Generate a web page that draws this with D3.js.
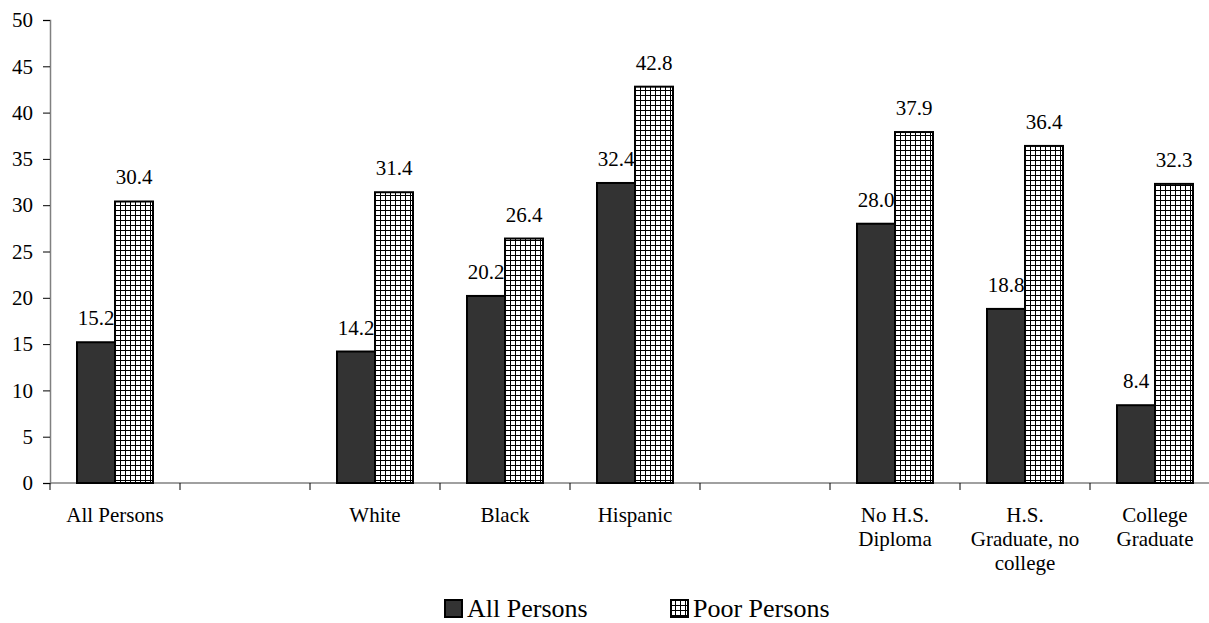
<!DOCTYPE html>
<html lang="en">
<head>
    <meta charset="UTF-8">
    <title>All Persons vs Poor Persons</title>
    <script src="https://d3js.org/d3.v7.min.js"></script>
    <style>
        body {
            margin: 0;
            background: white;
        }
        svg text {
            font-family: "Liberation Serif", "Times New Roman", serif !important;
            fill: black;
        }
    </style>
</head>
<body>
    <svg width="1209" height="623"></svg>
    <script>
        // categories (empty strings are the blank gaps between groups)
        var categories = ["All Persons", "", "White", "Black", "Hispanic", "", "No H.S.|Diploma", "H.S.|Graduate, no|college", "College|Graduate"];
        var allPersons = [15.2, null, 14.2, 20.2, 32.4, null, 28.0, 18.8, 8.4];
        var poorPersons = [30.4, null, 31.4, 26.4, 42.8, null, 37.9, 36.4, 32.3];
        var yTicks = [0, 5, 10, 15, 20, 25, 30, 35, 40, 45, 50];
        var seriesNames = ["All Persons", "Poor Persons"];

        var serif = "'Liberation Serif', 'Times New Roman', serif";
        var svg = d3.select("svg");
        var plotLeft = 50, plotRight = 1220, plotTop = 20, plotBottom = 483;

        var x = d3.scaleBand()
            .domain(d3.range(categories.length))
            .range([plotLeft, plotRight])
            .paddingInner(0)
            .paddingOuter(0);
        var barW = 38;

        var y = d3.scaleLinear().domain([0, 50]).range([plotBottom, plotTop]);

        // hatched grid pattern
        var defs = svg.append("defs");
        var pat = defs.append("pattern")
            .attr("id", "grid")
            .attr("patternUnits", "userSpaceOnUse")
            .attr("width", 5).attr("height", 5);
        pat.append("rect").attr("width", 5).attr("height", 5).attr("fill", "white");
        pat.append("path").attr("d", "M0,0.5H5M0.5,0V5")
            .attr("stroke", "black").attr("stroke-width", 1);

        // axes
        var yAxis = d3.axisLeft(y).tickValues(yTicks).tickSize(7).tickPadding(10);
        var gy = svg.append("g").attr("transform", "translate(" + plotLeft + ",0)").call(yAxis);
        gy.attr("font-family", serif).attr("font-size", 21);
        gy.select(".domain").attr("stroke", "#808080").attr("stroke-width", 1.5);
        gy.selectAll(".tick line").attr("stroke", "black");
        gy.selectAll(".tick text").style("font-family", serif).style("font-size", "21px");

        var xEdges = d3.range(categories.length).map(function(i) { return x(i); });
        var gx = svg.append("g");
        gx.append("line")
            .attr("x1", plotLeft).attr("x2", plotRight)
            .attr("y1", plotBottom).attr("y2", plotBottom)
            .attr("stroke", "#808080").attr("stroke-width", 1.5);
        gx.selectAll("line.tk").data(xEdges).enter().append("line")
            .attr("class", "tk")
            .attr("x1", function(d) { return d; }).attr("x2", function(d) { return d; })
            .attr("y1", plotBottom).attr("y2", plotBottom + 7)
            .attr("stroke", "black");

        function cx(i) { return x(i) + x.bandwidth() / 2; }

        // category labels
        categories.forEach(function(c, i) {
            if (!c) return;
            var t = svg.append("text")
                .attr("text-anchor", "middle")
                .style("font-family", serif)
                .style("font-size", "21px")
                .attr("x", cx(i))
                .attr("y", 522);
            c.split("|").forEach(function(line, j) {
                t.append("tspan")
                    .attr("x", cx(i))
                    .attr("dy", j === 0 ? 0 : 24)
                    .text(line);
            });
        });

        var idx = d3.range(categories.length).filter(function(i) { return allPersons[i] != null; });

        // dark bars
        svg.selectAll("rect.all").data(idx).enter().append("rect")
            .attr("class", "all")
            .attr("x", function(i) { return cx(i) - barW; })
            .attr("y", function(i) { return y(allPersons[i]); })
            .attr("width", barW)
            .attr("height", function(i) { return plotBottom - y(allPersons[i]); })
            .attr("fill", "#333333")
            .attr("stroke", "black").attr("stroke-width", 2);

        svg.selectAll("text.allv").data(idx).enter().append("text")
            .attr("class", "allv")
            .attr("text-anchor", "middle")
            .style("font-family", serif)
            .style("font-size", "21px")
            .attr("x", function(i) { return cx(i) - barW / 2; })
            .attr("y", function(i) { return y(allPersons[i]) - 17; })
            .text(function(i) { return allPersons[i].toFixed(1); });

        // hatched bars
        svg.selectAll("rect.poor").data(idx).enter().append("rect")
            .attr("class", "poor")
            .attr("x", function(i) { return cx(i); })
            .attr("y", function(i) { return y(poorPersons[i]); })
            .attr("width", barW)
            .attr("height", function(i) { return plotBottom - y(poorPersons[i]); })
            .attr("fill", "url(#grid)")
            .attr("stroke", "black").attr("stroke-width", 2);

        svg.selectAll("text.poorv").data(idx).enter().append("text")
            .attr("class", "poorv")
            .attr("text-anchor", "middle")
            .style("font-family", serif)
            .style("font-size", "21px")
            .attr("x", function(i) { return cx(i) + barW / 2; })
            .attr("y", function(i) { return y(poorPersons[i]) - 17; })
            .text(function(i) { return poorPersons[i].toFixed(1); });

        // legend
        var legend = svg.append("g");
        var legX = [445, 671];
        seriesNames.forEach(function(name, k) {
            legend.append("rect")
                .attr("x", legX[k]).attr("y", 600)
                .attr("width", 17).attr("height", 17)
                .attr("fill", k === 0 ? "#333333" : "url(#grid)")
                .attr("stroke", "black").attr("stroke-width", 2);
            legend.append("text")
                .attr("x", legX[k] + 22).attr("y", 617)
                .style("font-family", serif)
                .style("font-size", "26px")
                .text(name);
        });
    </script>
</body>
</html>
